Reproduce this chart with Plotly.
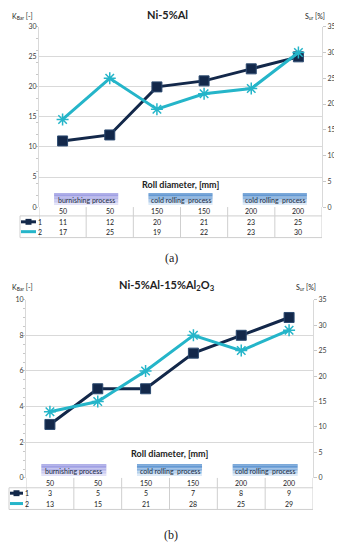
import plotly.graph_objects as go

# ---------------- data ----------------
roll_diam = ["50", "50", "150", "150", "200", "200"]
process_labels = ["burnishing process", "cold rolling  process", "cold rolling  process"]

a_title = "Ni-5%Al"
a_k = [11, 12, 20, 21, 23, 25]
a_s = [17, 25, 19, 22, 23, 30]

b_title = "Ni-5%Al-15%Al<sub>2</sub>O<sub>3</sub>"
b_k = [3, 5, 5, 7, 8, 9]
b_s = [13, 15, 21, 28, 25, 29]

left_ticks_a = [0, 5, 10, 15, 20, 25, 30]
left_ticks_b = [0, 2, 4, 6, 8, 10]
right_ticks = [0, 5, 10, 15, 20, 25, 30, 35]

# page body keeps its default 8px margin -> figure sits at (8, 8) in the window
OFF = 8
W, H = 342 - OFF, 550 - 2 * OFF
NAVY = "#13284a"
CYAN = "#25b5c9"
GRID = "#d9d9d9"
TXT = "#404040"
FONT = "Lato"


def px(x):
    return (x - OFF) / W


def py(y):
    return 1 - (y - OFF) / H


def ann(text, x, y, xref="paper", size=7, color="#222", family=FONT, xanchor="center"):
    return dict(text=text, x=x, y=y, xref=xref, yref="paper", showarrow=False,
                xanchor=xanchor, yanchor="middle",
                font=dict(size=size, color=color, family=family))


fig = go.Figure()
xs = list(range(len(roll_diam)))

panels = [
    dict(xa="x", ya="y", yb="y2", k=a_k, s=a_s, title=a_title, cap="(a)",
         L=39, R=322, T=22, B=205, krange=30, kticks=left_ticks_a,
         hdr=209.5, r1=220, r2=230, tline=214, tbot=236, tleft=20,
         roll=182, box=197, boxh=12, cap_y=257, title_y=10),
    dict(xa="x2", ya="y3", yb="y4", k=b_k, s=b_s, title=b_title, cap="(b)",
         L=26, R=313, T=299, B=480, krange=10, kticks=left_ticks_b,
         hdr=485, r1=495.5, r2=506, tline=490, tbot=512, tleft=9,
         roll=455, box=472, boxh=12, cap_y=538, title_y=285),
]

shapes = []
annotations = []

for i, p in enumerate(panels):
    fig.add_trace(go.Scatter(
        x=xs, y=p["k"], xaxis=p["xa"], yaxis=p["ya"], mode="lines+markers",
        line=dict(color=NAVY, width=3),
        marker=dict(symbol="square", size=10, color=NAVY, line=dict(color="#2c4a70", width=1)),
        showlegend=False, hoverinfo="skip"))
    fig.add_trace(go.Scatter(
        x=xs, y=p["s"], xaxis=p["xa"], yaxis=p["yb"], mode="lines+markers",
        line=dict(color=CYAN, width=3),
        marker=dict(symbol="asterisk-open", size=10, color=CYAN, line=dict(color=CYAN, width=1.5)),
        showlegend=False, hoverinfo="skip"))

    xdom = [px(p["L"]), px(p["R"])]
    ydom = [py(p["B"]), py(p["T"])]
    xkey = "xaxis" if i == 0 else "xaxis2"
    ylkey = "yaxis" if i == 0 else "yaxis3"
    yrkey = "yaxis2" if i == 0 else "yaxis4"
    fig.update_layout(**{
        xkey: dict(domain=xdom, range=[-0.5, 5.5], anchor=p["ya"], showgrid=False,
                   showticklabels=False, zeroline=False, showline=False, fixedrange=True),
        ylkey: dict(domain=ydom, range=[0, p["krange"]], tickvals=p["kticks"], anchor=p["xa"],
                    showgrid=True, gridcolor=GRID, gridwidth=1, zeroline=False,
                    showline=True, linecolor=GRID, ticks="", ticklabeloverflow="allow",
                    tickfont=dict(size=7, color=TXT, family=FONT),
                    minor=dict(ticks="outside", ticklen=2, tickcolor="#c8c8c8", nticks=5)),
        yrkey: dict(domain=ydom, range=[0, 35], tickvals=right_ticks, anchor=p["xa"],
                    overlaying=p["ya"], side="right", showgrid=False, zeroline=False,
                    showline=True, linecolor=GRID, ticks="outside", ticklen=3, tickcolor="#c8c8c8",
                    ticklabeloverflow="allow",
                    tickfont=dict(size=7, color=TXT, family=FONT)),
    })

    xref = p["xa"]
    annotations.append(ann("<b>" + p["title"] + "</b>", px(167), py(p["title_y"]), size=11))
    annotations.append(ann("K<sub>Bar</sub> [-]", px(10), py(p["title_y"] + 2), xanchor="left"))
    annotations.append(ann("S<sub>ur</sub> [%]", px(p["R"] + 5), py(p["title_y"] + 2), xanchor="right"))
    annotations.append(ann("<b>Roll diameter, [mm]</b>", 2.5, py(p["roll"]), xref=xref, size=9))
    annotations.append(ann(p["cap"], px(171), py(p["cap_y"]), size=12, family="Liberation Serif"))

    for j, lab in enumerate(process_labels):
        c = 2 * j + 0.5
        hw = 0.68
        y0 = p["box"] - p["boxh"] / 2
        nstrip = 8
        if j == 0:
            top, bot = (150, 150, 225), (225, 225, 248)
        else:
            top, bot = (80, 140, 205), (220, 234, 247)
        for s in range(nstrip):
            t = s / (nstrip - 1)
            col = tuple(int(top[k] + (bot[k] - top[k]) * t) for k in range(3))
            ya0 = y0 + p["boxh"] * s / nstrip
            ya1 = y0 + p["boxh"] * (s + 1) / nstrip
            shapes.append(dict(type="rect", xref=xref, yref="paper", x0=c - hw, x1=c + hw,
                               y0=py(ya1), y1=py(ya0), fillcolor="rgb(%d,%d,%d)" % col,
                               line=dict(width=0), layer="below"))
        annotations.append(ann(lab, c, py(p["box"] + 0.5), xref=xref, color="#1a2a40"))

    for j, v in enumerate(roll_diam):
        annotations.append(ann(v, j, py(p["hdr"]), xref=xref))
    for j, v in enumerate(p["k"]):
        annotations.append(ann(str(v), j, py(p["r1"]), xref=xref))
    for j, v in enumerate(p["s"]):
        annotations.append(ann(str(v), j, py(p["r2"]), xref=xref))
    lc = dict(color="#cfcfcf", width=1)
    shapes.append(dict(type="line", xref="paper", yref="paper", x0=px(p["tleft"]), x1=px(p["R"]),
                       y0=py(p["tline"]), y1=py(p["tline"]), line=lc))
    shapes.append(dict(type="line", xref="paper", yref="paper", x0=px(p["tleft"]), x1=px(p["R"]),
                       y0=py(p["tbot"]), y1=py(p["tbot"]), line=lc))
    shapes.append(dict(type="line", xref="paper", yref="paper", x0=px(p["tleft"]), x1=px(p["tleft"]),
                       y0=py(p["tbot"]), y1=py(p["tline"]), line=lc))
    for j in range(7):
        shapes.append(dict(type="line", xref=xref, yref="paper", x0=j - 0.5, x1=j - 0.5,
                           y0=py(p["tbot"]), y1=py(p["B"]), line=lc))
    kx0, kx1 = px(p["tleft"] + 1), px(p["L"] - 3)
    shapes.append(dict(type="line", xref="paper", yref="paper", x0=kx0, x1=kx1,
                       y0=py(p["r1"]), y1=py(p["r1"]), line=dict(color=NAVY, width=3)))
    mx = (p["tleft"] + p["L"] - 2) / 2
    shapes.append(dict(type="rect", xref="paper", yref="paper", x0=px(mx - 3), x1=px(mx + 3),
                       y0=py(p["r1"] + 3), y1=py(p["r1"] - 3), fillcolor=NAVY, line=dict(width=0)))
    shapes.append(dict(type="line", xref="paper", yref="paper", x0=kx0, x1=kx1,
                       y0=py(p["r2"]), y1=py(p["r2"]), line=dict(color=CYAN, width=3)))
    annotations.append(ann("1", px(p["L"] - 3), py(p["r1"]), xanchor="left"))
    annotations.append(ann("2", px(p["L"] - 3), py(p["r2"]), xanchor="left"))

fig.update_layout(width=W, height=H, margin=dict(l=0, r=0, t=0, b=0),
                  paper_bgcolor="white", plot_bgcolor="white",
                  shapes=shapes, annotations=annotations,
                  font=dict(family=FONT))
fig.write_html("out.html")
